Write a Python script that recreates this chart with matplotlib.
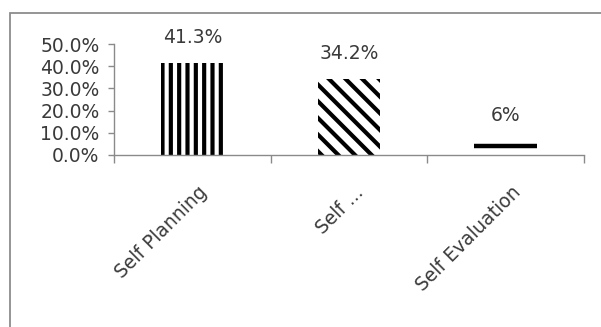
import matplotlib
matplotlib.use("Agg")
import matplotlib.pyplot as plt
import matplotlib.transforms as mtransforms
from matplotlib.patches import Rectangle
from matplotlib.ticker import FuncFormatter, FixedLocator

categories = ["Self Planning", "Self ...", "Self Evaluation"]
values = [0.413, 0.342, 0.06]
bar_labels = ["41.3%", "34.2%", "6%"]
yticks = [0.0, 0.1, 0.2, 0.3, 0.4, 0.5]

plt.rcParams['font.family'] = ['DejaVu Sans']
plt.rcParams['hatch.linewidth'] = 3.0

W, H = 601, 327
fig = plt.figure(figsize=(W / 100, H / 100), dpi=100)
ax = fig.add_axes([114 / W, (H - 155) / H, (584 - 114) / W, (155 - 44) / H])

gray = '#8a8a8a'
txt = '#3a3a3a'
hatches = ['||', '\\\\', None]
x = list(range(len(categories)))
bars = ax.bar(x, values, width=0.40, facecolor='white', edgecolor='black',
              linewidth=0)
for b, h in zip(bars, hatches):
    if h:
        b.set_hatch(h)
# third bar rendered as a single horizontal pattern stroke
b3 = bars[2]
ax.hlines(values[2] * 0.66, b3.get_x(), b3.get_x() + b3.get_width(),
          colors='black', linewidth=3.2)

for xi, v, lab in zip(x, values, bar_labels):
    ax.annotate(lab, (xi, v), xytext=(0, 26), textcoords='offset pixels',
                ha='center', va='center', fontsize=13.5, color=txt)

ax.set_xlim(-0.5, len(categories) - 0.5)
ax.set_ylim(0, 0.5)
ax.set_yticks(yticks)
ax.yaxis.set_major_formatter(FuncFormatter(lambda v, p: f"{v*100:.1f}%"))
ax.tick_params(axis='y', direction='out', length=4.5, width=1, color=gray,
               labelsize=13.5, labelcolor=txt, pad=6)

ax.set_xticks(x)
ax.set_xticklabels(categories, rotation=45, ha='right', va='center',
                   rotation_mode='anchor', fontsize=13.5, color=txt)
ax.tick_params(axis='x', which='major', length=0, pad=25)
ax.xaxis.set_minor_locator(FixedLocator([i - 0.5 for i in range(len(categories) + 1)]))
ax.tick_params(axis='x', which='minor', direction='out', length=6, width=1,
               color=gray)
offset = mtransforms.ScaledTranslation(12 / 100, 0, fig.dpi_scale_trans)
for lab in ax.get_xticklabels():
    lab.set_transform(lab.get_transform() + offset)

for s in ['top', 'right']:
    ax.spines[s].set_visible(False)
for s in ['left', 'bottom']:
    ax.spines[s].set_color(gray)
    ax.spines[s].set_linewidth(1)

fig.patches.append(Rectangle((10 / W, -0.2), 1.2, (H - 13) / H + 0.2,
                             transform=fig.transFigure, fill=False,
                             edgecolor='#8c8c8c', linewidth=1.3))

fig.savefig("out.png", dpi=100)
